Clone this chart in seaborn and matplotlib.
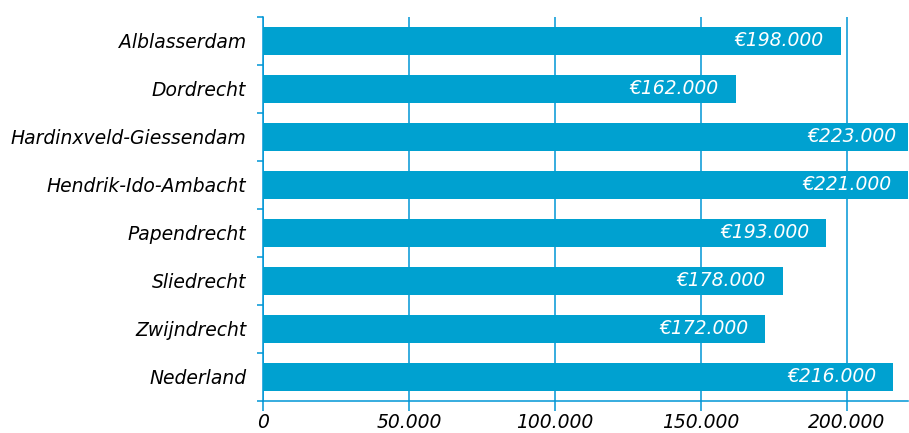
import matplotlib
matplotlib.use('Agg')
import matplotlib.pyplot as plt
import seaborn as sns
import pandas as pd
from matplotlib.ticker import FuncFormatter

gemeenten = ['Alblasserdam', 'Dordrecht', 'Hardinxveld-Giessendam', 'Hendrik-Ido-Ambacht',
             'Papendrecht', 'Sliedrecht', 'Zwijndrecht', 'Nederland']
woz = [198000, 162000, 223000, 221000, 193000, 178000, 172000, 216000]
x_ticks = [0, 50000, 100000, 150000, 200000]

df = pd.DataFrame({'gemeente': gemeenten, 'woz': woz})

blue = '#00a1d0'
line_blue = '#0096d6'
fs = 13.5

sns.set_style('white')
plt.rcParams['font.family'] = ['DejaVu Sans']

fig = plt.figure(figsize=(9.09, 4.33), dpi=100)
ax = fig.add_axes([263 / 909, 1 - 401 / 433, (908 - 263) / 909, (401 - 17) / 433])

sns.barplot(data=df, y='gemeente', x='woz', color=blue, saturation=1, width=0.58,
            linewidth=0, ax=ax, zorder=3)

ax.set_xlim(0, 221000)
ax.set_ylim(len(gemeenten) - 0.5, -0.5)

for i, v in enumerate(woz):
    lbl = '€' + f'{v:,}'.replace(',', '.')
    ax.annotate(lbl, xy=(v, i), xytext=(-17, 0), textcoords='offset pixels',
                ha='right', va='center', color='white', fontsize=fs, fontstyle='italic',
                annotation_clip=False, zorder=4)

ax.set_xticks(x_ticks)
ax.xaxis.set_major_formatter(FuncFormatter(lambda v, p: f'{int(v):,}'.replace(',', '.')))
ax.grid(axis='x', color=line_blue, linewidth=1.1, zorder=1)
ax.set_xlabel('')
ax.set_ylabel('')

# category boundary ticks on the y axis
ax.set_yticks(range(len(gemeenten)))
ax.set_yticklabels(gemeenten, fontsize=fs, fontstyle='italic', color='black')
ax.set_yticks([i - 0.5 for i in range(len(gemeenten) + 1)], minor=True)
ax.tick_params(axis='y', which='major', length=0, pad=12)
ax.tick_params(axis='y', which='minor', length=4, color=line_blue, width=1.1, left=True)
ax.tick_params(axis='x', length=7, color=line_blue, width=1.1, bottom=True, pad=2)
for t in ax.get_xticklabels():
    t.set_fontsize(fs)
    t.set_fontstyle('italic')
    t.set_color('black')

for s in ['top', 'right']:
    ax.spines[s].set_visible(False)
for s in ['left', 'bottom']:
    ax.spines[s].set_color(line_blue)
    ax.spines[s].set_linewidth(1.1)

fig.savefig('out.png', dpi=100)
